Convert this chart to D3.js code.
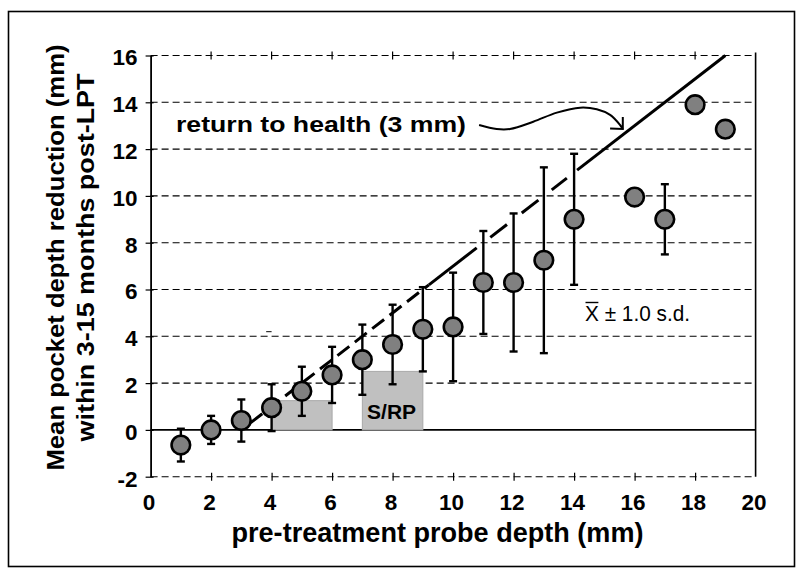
<!DOCTYPE html>
<html><head><meta charset="utf-8">
<script src="https://cdn.jsdelivr.net/npm/d3@7"></script>
<style>
body{margin:0;background:#fff}
svg{display:block}
text{font-family:"Liberation Sans",Arial,Helvetica,sans-serif}
</style>
</head><body>
<svg id="chart" width="804" height="575"></svg>
<script>
// ---- data ----
const depth = [1,2,3,4,5,6,7,8,9,10,11,12,13,14,16,17,18,19];
const meanReduction = [-0.65,0,0.4,0.95,1.65,2.35,3.0,3.65,4.3,4.4,6.3,6.3,7.25,9.0,9.95,9.0,13.9,12.85];
const sdReduction = [0.7,0.6,0.9,1.0,1.05,1.2,1.5,1.7,1.8,2.32,2.2,2.95,3.97,2.8,null,1.5,null,null];
const xTicks = [0,2,4,6,8,10,12,14,16,18,20];
const yTicks = [-2,0,2,4,6,8,10,12,14,16];
const boxX0 = [4,7];
const boxX1 = [6,9];
const boxHeight = [1.25,2.5];
const boxLabel = ["","S/RP"];
const healthOffset = 3;              // return to health: y = x - 3
const healthDashedRange = [3.3,9.2];
const healthSolidPieces = [[9.2,10.78],[11.23,11.78],[12.27,12.82],[13.26,13.76],[14.1,19]];
const arrowX = [10.86,11.44,11.88,12.65,13.43,14.20,14.75,15.19,15.52,15.61];
const arrowY = [13.03,12.86,12.86,13.17,13.56,13.77,13.70,13.46,13.03,12.86];
const arrowHeadX = [15.19,15.61,15.61];
const arrowHeadY = [12.88,12.86,13.37];

const points = depth.map((d,i)=>({d, m:meanReduction[i], s:sdReduction[i]}));
const fmt = v => String(v); // plain hyphen for negatives

const svg = d3.select("#chart");
svg.append("rect").attr("width",804).attr("height",575).attr("fill","#fff");
svg.append("rect").attr("x",8.5).attr("y",11.5).attr("width",786).attr("height",555)
  .attr("fill","none").attr("stroke","#000").attr("stroke-width",1.6);

const x = d3.scaleLinear().domain([0,20]).range([150.6,755.6]);
const y = d3.scaleLinear().domain([-2,16]).range([476.7,55.5]);

// grid lines
svg.append("g").selectAll("line").data(yTicks).join("line")
  .attr("x1",x(0)).attr("x2",x(20))
  .attr("y1",d=>y(d)).attr("y2",d=>y(d))
  .attr("stroke","#000")
  .attr("stroke-width",d=>d===0?1.6:1.1)
  .attr("stroke-dasharray",d=>d===0?null:"7,4");

// right frame line
svg.append("line").attr("x1",x(20)).attr("x2",x(20)).attr("y1",y(16)-3).attr("y2",y(-2))
  .attr("stroke","#000").attr("stroke-width",1.6);

// treatment boxes
const boxes = boxX0.map((b,i)=>({x0:b,x1:boxX1[i],h:boxHeight[i],label:boxLabel[i]}));
svg.append("g").selectAll("rect").data(boxes).join("rect")
  .attr("x",d=>x(d.x0)).attr("width",d=>x(d.x1)-x(d.x0))
  .attr("y",d=>y(d.h)).attr("height",d=>y(0)-y(d.h))
  .attr("fill","#c0c0c0").attr("stroke","#a9a9a9").attr("stroke-width",1);
svg.append("g").selectAll("text").data(boxes.filter(b=>b.label)).join("text")
  .attr("x",d=>x((d.x0+d.x1)/2)-1).attr("y",y(0)-11)
  .attr("text-anchor","middle").attr("font-weight","bold").attr("font-size",21)
  .text(d=>d.label);

// left axis
const yAxis = svg.append("g").attr("transform",`translate(${x(0)},0)`)
  .call(d3.axisLeft(y).tickValues(yTicks).tickFormat(fmt).tickSize(5).tickSizeOuter(0).tickPadding(8));
yAxis.select(".domain").attr("stroke","#000").attr("stroke-width",1.8);
yAxis.selectAll(".tick line").attr("x2",-5).attr("x1",3).attr("stroke","#000").attr("stroke-width",1.2);
yAxis.selectAll(".tick text").attr("font-size",22.5).attr("font-weight","bold")
  .attr("fill","#000").attr("dy","0.42em").attr("font-family",'"Liberation Sans",Arial,sans-serif');

// bottom axis (at y=-2)
const xAxis = svg.append("g").attr("transform",`translate(0,${y(-2)})`)
  .call(d3.axisBottom(x).tickValues(xTicks).tickFormat(fmt).tickSize(4).tickSizeOuter(0).tickPadding(13));
xAxis.select(".domain").remove();
xAxis.selectAll(".tick line").attr("y1",-4).attr("y2",4).attr("stroke","#000").attr("stroke-width",1.2)
  .filter(d=>d===0||d===20).remove();
xAxis.selectAll(".tick text").attr("font-size",22.5).attr("font-weight","bold")
  .attr("fill","#000").attr("dx",-2).attr("font-family",'"Liberation Sans",Arial,sans-serif');

// top ticks (at y=16)
svg.append("g").selectAll("line").data(xTicks.filter(t=>t>0&&t<20)).join("line")
  .attr("x1",d=>x(d)).attr("x2",d=>x(d)).attr("y1",y(16)-4).attr("y2",y(16)+4)
  .attr("stroke","#000").attr("stroke-width",1.2);

// small stray mark
svg.append("line").attr("x1",x(3.82)).attr("x2",x(4.0)).attr("y1",y(4.2)).attr("y2",y(4.2))
  .attr("stroke","#333").attr("stroke-width",1.2);

// return to health line
const hl = svg.append("g").attr("stroke","#000").attr("stroke-width",3).attr("fill","none");
hl.append("line")
  .attr("x1",x(healthDashedRange[0])).attr("y1",y(healthDashedRange[0]-healthOffset))
  .attr("x2",x(healthDashedRange[1])).attr("y2",y(healthDashedRange[1]-healthOffset))
  .attr("stroke-dasharray","15,7");
hl.selectAll("line.s").data(healthSolidPieces).join("line").attr("class","s")
  .attr("x1",d=>x(d[0])).attr("y1",d=>y(d[0]-healthOffset))
  .attr("x2",d=>x(d[1])).attr("y2",d=>y(d[1]-healthOffset));

// error bars
const eb = points.filter(p=>p.s!==null);
const ebg = svg.append("g").attr("stroke","#000").attr("stroke-width",2.4);
ebg.selectAll("line.v").data(eb).join("line").attr("class","v")
  .attr("x1",d=>x(d.d)).attr("x2",d=>x(d.d)).attr("y1",d=>y(d.m+d.s)).attr("y2",d=>y(d.m-d.s));
ebg.selectAll("line.t").data(eb).join("line").attr("class","t")
  .attr("x1",d=>x(d.d)-4).attr("x2",d=>x(d.d)+4).attr("y1",d=>y(d.m+d.s)).attr("y2",d=>y(d.m+d.s));
ebg.selectAll("line.b").data(eb).join("line").attr("class","b")
  .attr("x1",d=>x(d.d)-4).attr("x2",d=>x(d.d)+4).attr("y1",d=>y(d.m-d.s)).attr("y2",d=>y(d.m-d.s));

// points
svg.append("g").selectAll("circle").data(points).join("circle")
  .attr("cx",d=>x(d.d)).attr("cy",d=>y(d.m)).attr("r",9.3)
  .attr("fill","#808080").attr("stroke","#000").attr("stroke-width",2.6);

// annotation text
svg.append("text").attr("x",176).attr("y",132).attr("font-size",22.5).attr("font-weight","bold")
  .attr("textLength",290).attr("lengthAdjust","spacingAndGlyphs")
  .text("return to health (3 mm)");

// curved arrow
const arrowPts = arrowX.map((a,i)=>[a,arrowY[i]]);
svg.append("path").attr("d",d3.line().x(d=>x(d[0])).y(d=>y(d[1])).curve(d3.curveCatmullRom)(arrowPts))
  .attr("fill","none").attr("stroke","#000").attr("stroke-width",2);
svg.append("path").attr("d",d3.line().x(d=>x(arrowHeadX[d])).y(d=>y(arrowHeadY[d]))([0,1,2]))
  .attr("fill","none").attr("stroke","#000").attr("stroke-width",2);

// mean ± sd legend text
const lg = svg.append("text").attr("x",585).attr("y",321).attr("font-size",22)
  .attr("textLength",105).attr("lengthAdjust","spacingAndGlyphs")
  .text("X ± 1.0 s.d.");
const ext = lg.node().getExtentOfChar(0);
svg.append("line").attr("x1",ext.x+0.5).attr("x2",ext.x+ext.width-0.5)
  .attr("y1",302.5).attr("y2",302.5).attr("stroke","#000").attr("stroke-width",1.4);

// axis titles
svg.append("text").attr("x",437.5).attr("y",541.5).attr("text-anchor","middle")
  .attr("font-size",27).attr("font-weight","bold")
  .attr("textLength",412).attr("lengthAdjust","spacingAndGlyphs")
  .text("pre-treatment probe depth (mm)");
svg.append("text").attr("transform","translate(64.3,257.5) rotate(-90)").attr("text-anchor","middle")
  .attr("font-size",24).attr("font-weight","bold")
  .attr("textLength",426).attr("lengthAdjust","spacingAndGlyphs")
  .text("Mean pocket depth reduction (mm)");
svg.append("text").attr("transform","translate(94.3,257.5) rotate(-90)").attr("text-anchor","middle")
  .attr("font-size",24).attr("font-weight","bold")
  .attr("textLength",368).attr("lengthAdjust","spacingAndGlyphs")
  .text("within 3-15 months post-LPT");
</script>
</body></html>
